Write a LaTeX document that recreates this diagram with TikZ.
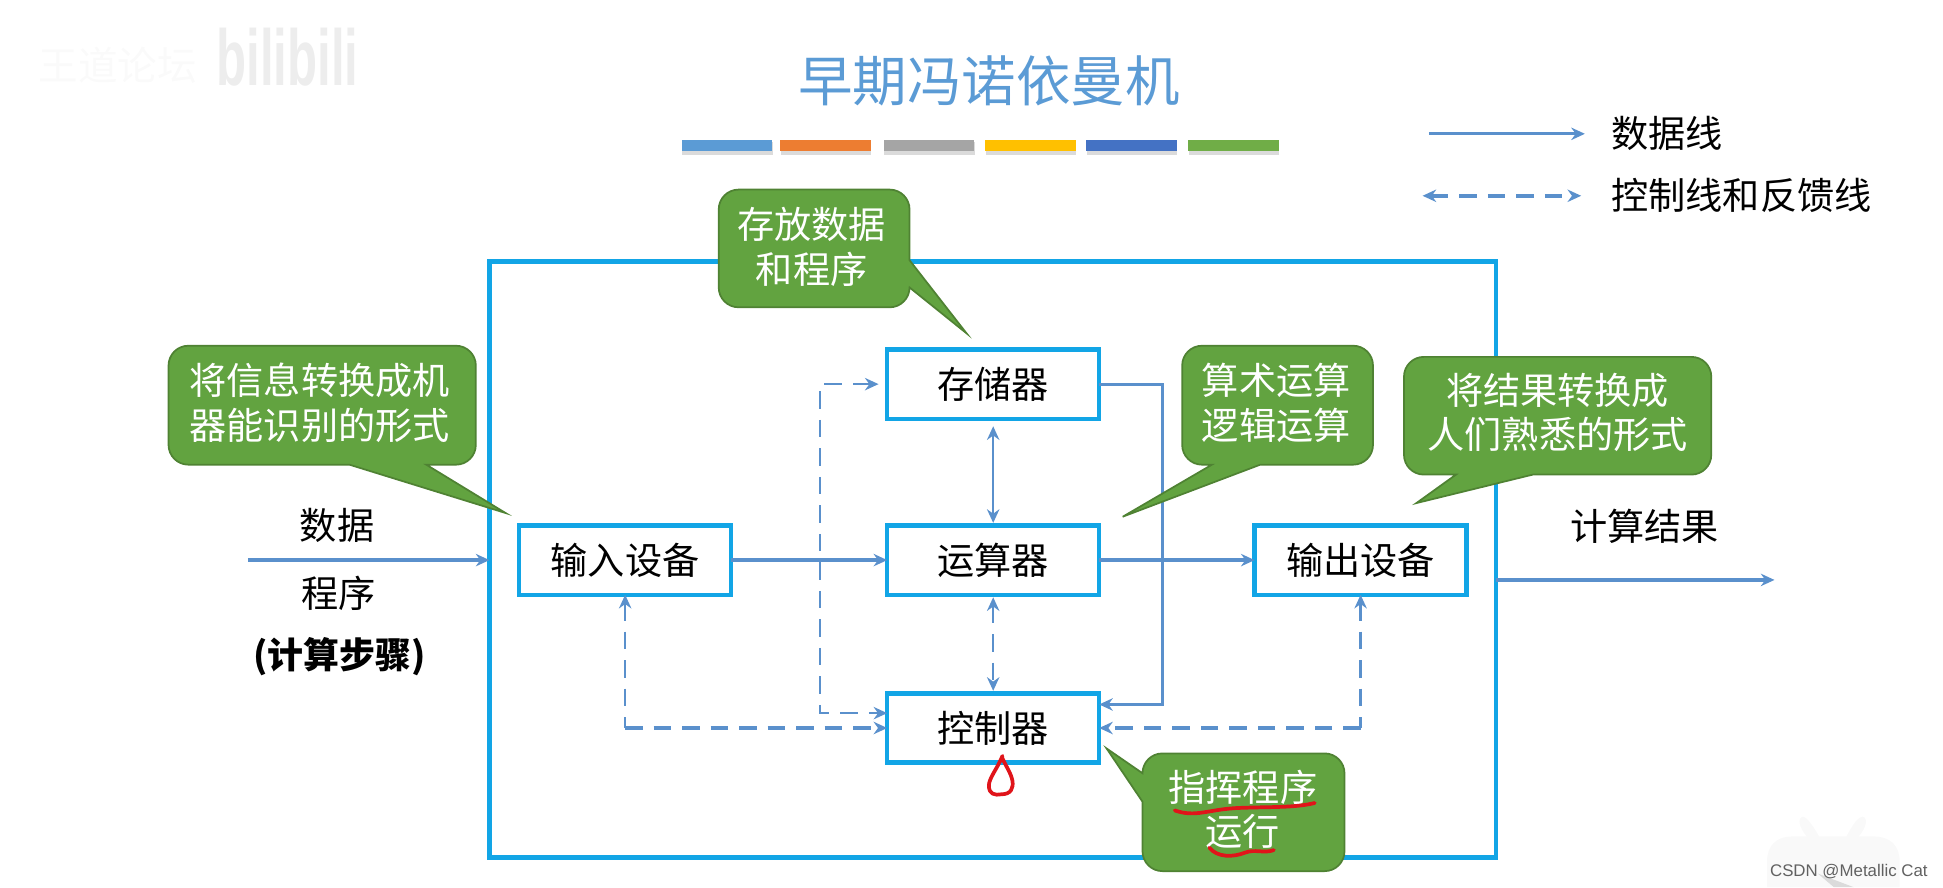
\documentclass[tikz,border=0pt]{standalone}
\usepackage{graphicx}
\usepackage{fontspec}
\setmainfont{Noto Sans CJK SC}
\newfontfamily\latinfont{Liberation Sans}
\usetikzlibrary{arrows.meta,calc}
\definecolor{framec}{HTML}{12A5E6}
\definecolor{linec}{HTML}{5A90CC}
\definecolor{titlec}{HTML}{5B9BD5}
\definecolor{greenf}{HTML}{62A340}
\definecolor{greenb}{HTML}{4F8233}
\definecolor{redm}{HTML}{E0141A}
\tikzset{
  x=0.5pt,y=-0.5pt,
  framebox/.style={draw=framec,line width=1.7pt,minimum width=406pt,minimum height=240.5pt,outer sep=0pt},
  unitbox/.style={draw=framec,line width=1.8pt,fill=white,minimum width=85.5pt,minimum height=28pt,outer sep=0pt,font=\fontsize{15}{18}\selectfont,text=black,inner sep=0pt},
  plain/.style={font=\fontsize{15}{18}\selectfont,text=black,inner sep=0pt,align=center},
  calloutshape/.style={fill=greenf,draw=greenb,line width=0.7pt},
  callouttext/.style={font=\fontsize{15}{18}\selectfont,text=white,inner sep=0pt,align=center},
  dataline/.style={draw=linec,line width=1.3pt,-{Stealth[length=5.5pt,width=5pt]}},
  thinboth/.style={draw=linec,line width=0.9pt,{Stealth[length=5.5pt,width=5pt]}-{Stealth[length=5.5pt,width=5pt]}},
  ctrlline/.style={draw=linec,line width=1.4pt,dash pattern=on 7pt off 4.5pt,{Stealth[length=5.5pt,width=5pt]}-{Stealth[length=5.5pt,width=5pt]}},
  ctrlhoriz/.style={draw=linec,line width=1.4pt,dash pattern=on 7pt off 4.5pt,-{Stealth[length=5.5pt,width=5pt]}},
  ctrlvert/.style={draw=linec,line width=0.9pt,dash pattern=on 7pt off 4.5pt,{Stealth[length=5.5pt,width=5pt]}-},
  ctrlthin/.style={draw=linec,line width=0.9pt,dash pattern=on 7pt off 4.5pt,{Stealth[length=5.5pt,width=5pt]}-{Stealth[length=5.5pt,width=5pt]}},
  redmark/.style={draw=redm,line cap=round,line join=round},
  swatch/.style={inner sep=0pt,minimum width=36.5pt,minimum height=4.5pt,outer sep=0pt},
}
\begin{document}
\begin{tikzpicture}
\useasboundingbox (0,0) rectangle (1568,716);
% watermarks
\node[font=\fontsize{16}{16}\selectfont,text=black!2,inner sep=0pt] (wmA) at (95,53) {王道论坛};
\node[font=\latinfont\bfseries\fontsize{32}{32}\selectfont,text=black!7,inner sep=0pt] (wmB) at (232,46) {\scalebox{0.62}[1]{bilibili}};
\fill[black!2.5] (1426,716) -- (1426,695) .. controls (1426,682) and (1434,675) .. (1446,675)
  -- (1458,675) .. controls (1452,668) and (1450,660) .. (1455,659) .. controls (1459,660) and (1464,668) .. (1468,675)
  -- (1490,675) .. controls (1494,668) and (1498,660) .. (1503,659) .. controls (1508,660) and (1506,668) .. (1500,675)
  -- (1512,675) .. controls (1525,675) and (1533,682) .. (1533,695) -- (1533,716) -- cycle;
\fill[black!14] (1467,705) -- (1496,716) -- (1480,716) -- cycle;
\node[font=\latinfont\fontsize{6.8}{8}\selectfont,text=black!62,inner sep=0pt,anchor=east] (wmC) at (1556,703) {CSDN @Metallic Cat};
% title and bars
\node[font=\fontsize{22}{24}\selectfont,text=titlec,inner sep=0pt] (title) at (798,65) {早期冯诺依曼机};
\foreach \n/\cx/\c in {a/586.5/5B9BD5,b/666/ED7D31,c/749.5/A5A5A5,d/831.5/FFC000,e/913/4472C4,f/995.5/70AD47}{
  \definecolor{swc}{HTML}{\c}
  \fill[black!14] (\cx-36,115) rectangle (\cx+37,125);
  \node[swatch,fill=swc] (bar\n) at (\cx,117.5) {};
}
% legend
\coordinate (legAa) at (1153,108);
\coordinate (legAb) at (1279,108);
\coordinate (legBa) at (1148,158);
\coordinate (legBb) at (1276,158);
\draw[dataline] (legAa) -- (legAb);
\draw[ctrlline] (legBa) -- (legBb);
\node[plain,anchor=west] (legAt) at (1300,108) {数据线};
\node[plain,anchor=west] (legBt) at (1300,158) {控制线和反馈线};
% frame and units
\node[framebox] (frame) at (801,451.5) {};
\node[unitbox] (mem) at (801.5,310) {存储器};
\node[unitbox] (alu) at (801.5,452) {运算器};
\node[unitbox] (ctl) at (801.5,587.5) {控制器};
\node[unitbox] (inp) at (504.5,452) {输入设备};
\node[unitbox] (out) at (1098,452) {输出设备};
% outside labels
\node[plain] (tData) at (272,424) {数据};
\node[plain] (tProg) at (273,479) {程序};
\node[plain,font=\fontsize{14.5}{18}\selectfont] (tStep) at (274,530) {\textbf{(计算步骤)}};
\node[plain] (tRes) at (1327,425) {计算结果};
% connectors
\coordinate (dataStart) at (200,452);
\coordinate (resEnd) at (1432,468);
\coordinate (memCtlX) at (938,0);
\coordinate (ctlLoopX) at (662,0);
\draw[dataline] (dataStart) -- (frame.west |- inp.west);
\draw[dataline] (inp.east) -- (alu.west);
\draw[dataline] (alu.east) -- (out.west);
\draw[dataline] (frame.east |- resEnd) -- (resEnd);
\draw[thinboth] ([yshift=-3pt]mem.south) -- ([yshift=1pt]alu.north);
\draw[ctrlthin] ([yshift=-1pt]alu.south) -- ([yshift=1pt]ctl.north);
\draw[dataline] (mem.east) -- (memCtlX |- mem.east) |- ($(ctl.east)+(0,-19)$);
\draw[ctrlthin] ($(mem.west)+(-7,0)$) -- (ctlLoopX |- mem.west) |- ($(ctl.west)+(0,-12)$);
\draw[ctrlvert] (inp.south) -- (inp.south |- ctl.west);
\draw[ctrlhoriz] (inp.south |- ctl.west) -- (ctl.west);
\draw[ctrlvert] (out.south) -- (out.south |- ctl.east);
\draw[ctrlhoriz] (out.south |- ctl.east) -- (ctl.east);
% callouts
\draw[calloutshape] (734,232) [rounded corners=8pt] -- (734,248) -- (580,248) -- (580,153) -- (734,153) [sharp corners] -- (734,210) -- (780,269) -- cycle;
\node[callouttext] (cStore) at (655,199) {存放数据\\和程序};
\draw[calloutshape] (344,375) [rounded corners=8pt] -- (384,375) -- (384,279) -- (136,279) -- (136,375) [sharp corners] -- (282,375) -- (408,414) -- cycle;
\node[callouttext] (cInp) at (258,325) {将信息转换成机\\器能识别的形式};
\draw[calloutshape] (1017,375) [rounded corners=8pt] -- (1108,375) -- (1108,279) -- (954,279) -- (954,375) [sharp corners] -- (978,375) -- (906,417) -- cycle;
\node[callouttext] (cAlu) at (1030,325) {算术运算\\逻辑运算};
\draw[calloutshape] (1237,383) [rounded corners=8pt] -- (1381,383) -- (1381,288) -- (1133,288) -- (1133,383) [sharp corners] -- (1175,383) -- (1143,406) -- cycle;
\node[callouttext] (cOut) at (1257,333) {将结果转换成\\人们熟悉的形式};
\draw[calloutshape] (922,624) [rounded corners=8pt] -- (922,608) -- (1085,608) -- (1085,703) -- (922,703) [sharp corners] -- (922,647) -- (893,604) -- cycle;
\node[callouttext] (cCtl) at (1003,653) {指挥程序\\运行};
% red marks
\draw[redmark,line width=1.5pt] (948,654) .. controls (965,660) and (975,653) .. (1000,652) .. controls (1025,651) and (1045,652) .. (1061,648);
\draw[redmark,line width=1.5pt] (976,684) .. controls (982,692) and (995,692) .. (1005,688) .. controls (1013,685) and (1020,689) .. (1028,686);
\draw[redmark,line width=1.5pt] (809,610) .. controls (805,620) and (798,628) .. (798,634) .. controls (798,641) and (803,642) .. (808,641) .. controls (816,641) and (818,636) .. (817,630) .. controls (816,624) and (811,617) .. (809,612);
\end{tikzpicture}
\end{document}
